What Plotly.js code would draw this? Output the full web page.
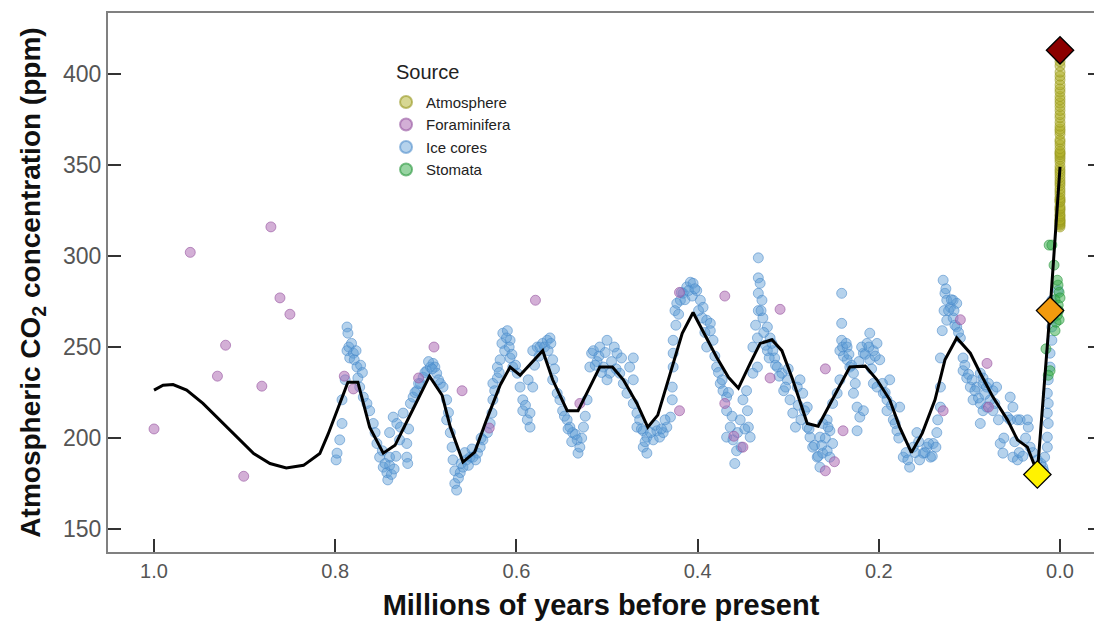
<!DOCTYPE html>
<html>
<head>
<meta charset="utf-8">
<script src="https://cdn.plot.ly/plotly-3.0.1.min.js"></script>
<style>html,body{margin:0;padding:0;background:#fff;}#chart{width:1094px;height:621px;}</style>
</head>
<body>
<div id="chart"></div>
<script>
// Ice core CO2 (age in Myr before present, ppm)
const iceAge = [0.799,0.798,0.795,0.7925,0.7925,0.789,0.787,0.786,0.787,0.784,0.780,0.776,0.775,0.773,0.769,0.765,0.762,0.758,0.756,0.754,0.751,0.747,0.743,0.742,0.740,0.740,0.740,0.736,0.732,0.728,0.725,0.721,0.721,0.720,0.717,0.714,0.710,0.706,0.703,0.699,0.695,0.692,0.690,0.688,0.684,0.681,0.677,0.677,0.673,0.671,0.670,0.668,0.668,0.666,0.662,0.659,0.655,0.651,0.648,0.643,0.640,0.637,0.632,0.629,0.627,0.626,0.626,0.621,0.621,0.618,0.616,0.615,0.610,0.607,0.607,0.604,0.599,0.596,0.593,0.593,0.588,0.585,0.585,0.582,0.582,0.577,0.574,0.571,0.566,0.563,0.560,0.560,0.555,0.552,0.549,0.544,0.541,0.538,0.533,0.532,0.530,0.526,0.522,0.519,0.517,0.515,0.511,0.508,0.504,0.500,0.497,0.500,0.492,0.489,0.486,0.482,0.478,0.475,0.471,0.471,0.471,0.467,0.464,0.467,0.460,0.456,0.460,0.456,0.449,0.445,0.442,0.438,0.434,0.430,0.428,0.428,0.427,0.427,0.427,0.425,0.423,0.419,0.416,0.412,0.408,0.405,0.401,0.397,0.394,0.390,0.386,0.390,0.386,0.383,0.379,0.375,0.372,0.368,0.368,0.368,0.364,0.361,0.357,0.359,0.353,0.350,0.345,0.344,0.342,0.339,0.334,0.339,0.334,0.333,0.333,0.333,0.333,0.331,0.329,0.328,0.323,0.320,0.323,0.317,0.315,0.312,0.307,0.305,0.301,0.298,0.295,0.292,0.290,0.287,0.284,0.279,0.279,0.276,0.273,0.268,0.265,0.262,0.265,0.262,0.257,0.257,0.254,0.254,0.251,0.251,0.246,0.243,0.243,0.241,0.241,0.241,0.240,0.235,0.235,0.232,0.228,0.228,0.224,0.224,0.221,0.217,0.213,0.217,0.210,0.206,0.210,0.202,0.199,0.206,0.202,0.195,0.191,0.188,0.191,0.184,0.180,0.177,0.173,0.166,0.162,0.158,0.155,0.151,0.147,0.143,0.140,0.136,0.135,0.132,0.132,0.132,0.130,0.129,0.127,0.125,0.121,0.118,0.114,0.125,0.118,0.114,0.110,0.107,0.107,0.103,0.099,0.096,0.092,0.088,0.085,0.081,0.077,0.074,0.085,0.088,0.081,0.074,0.070,0.085,0.088,0.066,0.063,0.058,0.055,0.055,0.052,0.052,0.047,0.047,0.044,0.036,0.035,0.030,0.025,0.021,0.019,0.018,0.017,0.014,0.014,0.013,0.014,0.013,0.014,0.013,0.011,0.011,0.009,0.009,0.008,0.009,0.002,
  0.785,0.782,0.779,0.777,0.772,0.770,0.748,0.745,0.738,0.735,0.733,0.729,0.719,0.712,0.708,0.701,0.697,0.693,0.686,0.675,0.664,0.661,0.657,0.653,0.649,0.645,0.639,0.624,0.619,0.613,0.611,0.608,0.605,0.601,0.590,0.587,0.580,0.575,0.569,0.565,0.562,0.558,0.547,0.543,0.539,0.535,0.528,0.524,0.513,0.509,0.506,0.502,0.495,0.490,0.484,0.462,0.458,0.452,0.447,0.440,0.436,0.424,0.421,0.418,0.414,0.410,0.406,0.403,0.399,0.395,0.392,0.381,0.377,0.373,0.366,0.362,0.356,0.352,0.348,0.346,0.336,0.330,0.327,0.325,0.321,0.318,0.314,0.310,0.303,0.300,0.289,0.286,0.282,0.277,0.271,0.267,0.263,0.259,0.256,0.239,0.236,0.233,0.230,0.226,0.222,0.219,0.215,0.211,0.208,0.204,0.196,0.193,0.186,0.182,0.178,0.170,0.168,0.160,0.156,0.149,0.145,0.141,0.137,0.128,0.126,0.123,0.120,0.117,0.116,0.112,0.105,0.101,0.097,0.094,0.090,0.083,0.079,0.072,0.068,0.062,0.050,0.045,0.041,0.038,0.033];
const iceCO2 = [188,191.7,199,208,221,232,261,257.6,248,244,246.6,239,233,228,222.5,219,215,208,203,197,189.5,184,181,177,185,189.5,203,211.5,208,206,213.7,197,189.5,186,219,222.5,226,230,233.4,237,239,241,239,235.6,230,228,221,210,203,195,188,182,175,171.4,181,184,188,189.5,189.5,191.7,195,199,203,208,213.7,221,230,233,239,243,252,257.6,259,253.7,244,239,235.6,228,221,215,210,206,213.7,228,248,250,250,252,253.7,255,243,232,224.6,221,215,210,206,203,199,191.7,195,206,221,239,246.6,248,242,250,239,253.7,235.6,232,250,246.6,235.6,230,224.6,239,244,232,219,213.7,210,206,204,200.5,195,191.7,199,204,200.5,203,206,211.5,221,228,239,246.6,253.7,270,274,275.7,279.5,283,285.6,285,281,275.7,271.8,264.7,263,250,259,253.7,239,230,226,222.5,215,200.5,206,199,193,186,210,221,215,206,200.5,235.6,239,250,255,270,279.5,288,299,285,275.7,266,261,255,248,248,244,239,235.6,226,232,221,213.7,206,228,232,224.6,217,206,200.5,195,189.5,184,191.7,200.5,208,210,193,204,189.5,197,219,224.6,232,248,253.7,263,279.5,250,250,243,239,235.6,224.6,217,204,211.5,215,252,246.6,257.6,248,243,252,243,230,228,224.6,221,232,215,210,204,217,189.5,184,195,203,188,191.7,195,189.5,197,203,210,217,228,244,259,286.7,279.5,275.7,271.8,275.7,274,264.7,266,261,255,244,237,233,228,221,228,235.6,233,228,221,226,215,208,217,215,228,230,219,197,191.7,211.5,210,222.5,189.5,217,188,210,210,210,206,192,188,186,184,182,189.5,195,200.5,208,213.7,219,224.6,232,239,246.6,253.7,261,266,275.7,281,
  250,252,243,248,240,236,193,186,180,183,190,199,205,225,230,236,242,238,232,214,178,186,192,185,194,188,200,226,236,248,255,250,246,240,218,232,240,245,250,248,252,238,212,205,198,202,200,212,240,245,236,247,242,238,244,205,198,203,207,205,210,262,268,280,276,281,278,282,270,266,258,245,236,232,225,212,203,195,205,226,262,270,258,251,244,252,240,234,228,238,218,210,215,205,196,190,196,200,206,245,252,246,240,230,242,250,246,250,238,245,230,225,218,208,200,192,188,192,198,192,197,190,195,270,282,270,276,270,262,258,240,235,232,226,222,224,230,219,210,200,198,192,190,200,195];

// Foraminifera
const foramAge = [1.0,0.96,0.93,0.921,0.901,0.881,0.871,0.861,0.85,0.79,0.78,0.708,0.691,0.66,0.63,0.579,0.53,0.42,0.42,0.37,0.37,0.36,0.35,0.309,0.32,0.259,0.2395,0.249,0.259,0.11,0.0806,0.129,0.079];
const foramCO2 = [205,302,234,251,179,228.5,316,277,268,234,227,233,250,226,205.5,275.7,219,215,280,278,219,201,195,270.7,233,238,204,187,182,265,241,215,217];

// Atmosphere (Mauna Loa annual means), ages in Myr before present
const atmAge = [0.00006,0.00006,0.00006,0.00005,0.00005,0.00005,0.00005,0.00005,0.00005,0.00005,0.00005,0.00005,0.00004,0.00004,0.00004,0.00004,0.00004,0.00004,0.00004,0.00004,0.00004,0.00004,0.00003,0.00003,0.00003,0.00003,0.00003,0.00003,0.00003,0.00003,0.00003,0.00003,0.00002,0.00002,0.00002,0.00002,0.00002,0.00002,0.00002,0.00002,0.00002,0.00002,0.00001,0.00001,0.00001,0.00001,0.00001,0.00001,0.00001,0.00001,0.00001,0.00001,0.0,0.0,0.0,0.0,0.0,0.0,0.0,0.0,0.0];
const atmCO2 = [315.97,316.91,317.64,318.45,318.99,319.62,320.04,321.38,322.16,323.04,324.62,325.68,326.32,327.46,329.68,330.19,331.12,332.03,333.84,335.41,336.84,338.76,340.12,341.48,343.15,344.87,346.35,347.61,349.31,351.69,353.20,354.45,355.70,356.54,357.21,358.96,360.97,362.74,363.88,366.84,368.54,369.71,371.32,373.45,375.98,377.70,379.98,382.09,384.02,385.83,387.64,390.10,391.85,394.06,396.74,398.81,401.01,404.41,406.76,408.72,411.66];

// Stomata
const stomAge = [0.012,0.009,0.0066,0.0055,0.0022,0.001,0.0,0.002,0.003,0.0044,0.0055,0.0155,0.011,0.013,0.003,0.0015,0.001];
const stomCO2 = [306,306,295,276,284,280,277,273,267.5,263.6,259,249,237,234.5,286.7,270,265];

// Smoothed trend
const trendAge = [1.0,0.99,0.979,0.964,0.946,0.927,0.909,0.89,0.872,0.854,0.835,0.817,0.808,0.798,0.786,0.775,0.762,0.747,0.734,0.715,0.696,0.682,0.673,0.659,0.646,0.633,0.618,0.607,0.596,0.571,0.56,0.544,0.532,0.519,0.508,0.494,0.482,0.467,0.455,0.444,0.43,0.417,0.405,0.39,0.379,0.366,0.355,0.342,0.331,0.318,0.307,0.295,0.279,0.267,0.251,0.232,0.215,0.202,0.188,0.177,0.164,0.152,0.138,0.127,0.114,0.099,0.088,0.074,0.058,0.047,0.036,0.025,0.011,0.0];
const trendCO2 = [226.3,229,229.4,226.3,219,209.8,200.7,191.5,186,183.6,185,191.5,202,215,230.7,230.7,206,191.7,196,215,234,223.5,206,186.8,192.3,210,229,239,234.5,248,232,215,215,228,239,239,232,219,206,212.6,235.6,257.6,269,255,244.4,233.4,227.4,241,252,254,248,232,208,206.5,221,239,239.5,232,221,206,192,202.7,221,243,255,246.6,235.6,222.5,210,199,195,181,270,349];

// Reference markers (present, pre-industrial, last glacial maximum)
const markAge = [0.0,0.011,0.025];
const markCO2 = [413,270,180];
const markColors = ['#8B0000','#F29A0E','#FFF200'];

const traces = [
  {x: iceAge, y: iceCO2, type:'scatter', mode:'markers', name:'Ice cores', legendrank:3,
   marker:{size:10, color:'rgba(91,155,213,0.45)', line:{color:'rgba(70,135,200,0.55)', width:1}}},
  {x: foramAge, y: foramCO2, type:'scatter', mode:'markers', name:'Foraminifera', legendrank:2,
   marker:{size:10, color:'rgba(175,110,180,0.55)', line:{color:'rgba(150,85,160,0.6)', width:1}}},
  {x: atmAge, y: atmCO2, type:'scatter', mode:'markers', name:'Atmosphere', legendrank:1,
   marker:{size:10, color:'rgba(175,175,40,0.5)', line:{color:'rgba(150,150,30,0.6)', width:1}}},
  {x: stomAge, y: stomCO2, type:'scatter', mode:'markers', name:'Stomata', legendrank:4,
   marker:{size:10, color:'rgba(50,170,70,0.5)', line:{color:'rgba(40,150,60,0.6)', width:1}}},
  {x: trendAge, y: trendCO2, type:'scatter', mode:'lines', showlegend:false, hoverinfo:'skip',
   line:{color:'#000', width:3}},
  {x: markAge, y: markCO2, type:'scatter', mode:'markers', showlegend:false,
   marker:{symbol:'diamond', size:21, color:markColors, line:{color:'#000', width:1.3}}},
  {x:[0.5], y:[300], yaxis:'y2', type:'scatter', mode:'markers', showlegend:false, hoverinfo:'skip',
   marker:{opacity:0}}
];

const layout = {
  width:1094, height:621,
  margin:{l:108, r:0, t:13, b:69},
  paper_bgcolor:'#fff', plot_bgcolor:'#fff',
  font:{family:'Liberation Sans, Arial, sans-serif', color:'#555'},
  showlegend:true,
  legend:{x:0.282, y:0.865, xanchor:'left', yanchor:'top', bgcolor:'rgba(0,0,0,0)',
    font:{size:15, color:'#222'}, tracegroupgap:0, itemsizing:'constant'},
  annotations:[{text:'Source', xref:'paper', yref:'paper', x:0.29, y:0.89, xanchor:'left', yanchor:'middle',
    showarrow:false, font:{size:20, color:'#222'}}],
  xaxis:{range:[1.0508,-0.0375], tickvals:[1.0,0.8,0.6,0.4,0.2,0.0], ticktext:['1.0','0.8','0.6','0.4','0.2','0.0'],
    ticks:'inside', ticklen:13, tickwidth:2, tickcolor:'#333',
    showline:true, linecolor:'#808080', linewidth:2, mirror:true, showgrid:false, zeroline:false,
    tickfont:{size:20, color:'#555'},
    title:{text:'Millions of years before present', font:{size:29, color:'#111', family:'Liberation Sans, Arial, sans-serif', weight:'bold'}, standoff:14}},
  yaxis:{range:[137.4,433.5], tickvals:[150,200,250,300,350,400],
    ticks:'inside', ticklen:13, tickwidth:2, tickcolor:'#333',
    showline:true, linecolor:'#808080', linewidth:2, mirror:false, showgrid:false, zeroline:false,
    tickfont:{size:23, color:'#555'},
    title:{text:'Atmospheric CO<sub>2</sub> concentration (ppm)', font:{size:28, color:'#111', family:'Liberation Sans, Arial, sans-serif', weight:'bold'}, standoff:14}},
  yaxis2:{range:[137.4,433.5], overlaying:'y', side:'right', tickvals:[150,200,250,300,350,400],
    ticks:'inside', ticklen:6, tickwidth:2, tickcolor:'#333', showticklabels:false,
    showline:false, showgrid:false, zeroline:false}
};

Plotly.newPlot('chart', traces, layout, {displayModeBar:false, staticPlot:true});
</script>
</body>
</html>
